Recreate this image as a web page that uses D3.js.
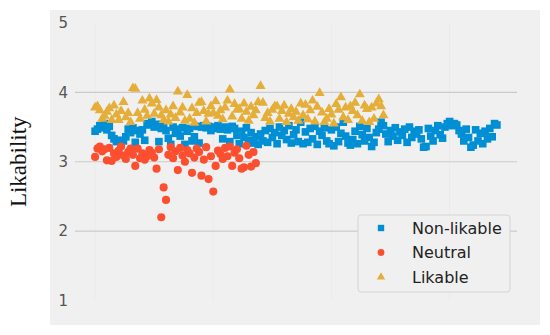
<!DOCTYPE html>
<html>
<head>
<meta charset="utf-8">
<script src="https://cdn.jsdelivr.net/npm/d3@7"></script>
<style>
  body { margin: 0; background: #fff; }
  svg { display: block; }
</style>
</head>
<body>
<script>
// data (x is just the sample index)
var nonLikable = [
  3.44, 3.47, 3.52, 3.49, 3.55, 3.46, 3.51, 3.38, 3.33, 3.29,
  3.31, 3.27, 3.30, 3.36, 3.47, 3.42, 3.49, 3.28, 3.45, 3.40,
  3.46, 3.31, 3.55, 3.53, 3.58, 3.50, 3.54, 3.29, 3.48, 3.52,
  3.45, 3.34, 3.25, 3.50, 3.41, 3.47, 3.37, 3.49, 3.25, 3.44,
  3.48, 3.30, 3.36, 3.51, 3.27, 3.50, 3.52, 3.49, 3.51, 3.45,
  3.48, 3.50, 3.52, 3.47, 3.33, 3.50, 3.46, 3.29, 3.51, 3.48,
  3.38, 3.26, 3.44, 3.35, 3.49, 3.31, 3.42, 3.27, 3.36, 3.25,
  3.40, 3.30, 3.45, 3.28, 3.48, 3.35, 3.42, 3.26, 3.50, 3.38,
  3.45, 3.32, 3.52, 3.27, 3.39, 3.46, 3.29, 3.57, 3.26, 3.43,
  3.28, 3.48, 3.33, 3.51, 3.25, 3.44, 3.38, 3.49, 3.30, 3.26,
  3.46, 3.23, 3.50, 3.29, 3.41, 3.57, 3.37, 3.27, 3.24, 3.32,
  3.44, 3.26, 3.51, 3.39, 3.30, 3.48, 3.35, 3.22, 3.28, 3.42,
  3.47, 3.57, 3.52, 3.40, 3.29, 3.45, 3.37, 3.49, 3.31, 3.43,
  3.38, 3.47, 3.28, 3.50, 3.35, 3.44, 3.40, 3.46, 3.33, 3.21,
  3.22, 3.48, 3.37, 3.30, 3.45, 3.52, 3.39, 3.34, 3.50, 3.55,
  3.58, 3.52, 3.55, 3.53, 3.45, 3.40, 3.30, 3.47, 3.35, 3.21,
  3.24, 3.46, 3.30, 3.41, 3.26, 3.44, 3.33, 3.48, 3.36, 3.55,
  3.53
];
var neutral = [
  3.07, 3.19, 3.22, 3.15, 3.18, 3.02, 3.20, 3.01, 3.12, 3.07,
  3.16, 3.22, 3.09, 3.04, 3.14, 3.19, 3.10, 2.94, 3.19, 3.05,
  3.12, 3.03, 3.08, 3.17, 3.13, 3.06, 2.90, 3.18, 2.20, 2.63,
  2.45, 3.10, 3.21, 3.05, 3.15, 2.88, 3.20, 3.09, 3.00, 3.17,
  3.12, 2.84, 3.06, 3.19, 3.14, 2.80, 3.03, 3.21, 2.75, 3.08,
  2.57, 2.94, 3.16, 3.11, 3.04, 3.20, 3.08, 3.22, 2.94, 3.13,
  3.18, 3.05, 2.90, 2.92, 3.23, 3.10, 2.93, 3.14, 2.98
];
var likable = [
  3.78, 3.80, 3.74, 3.62, 3.66, 3.72, 3.77, 3.60, 3.81, 3.68,
  3.60, 3.73, 3.86, 3.64, 3.70, 3.57, 4.06, 4.05, 3.70, 3.62,
  3.88, 3.75, 3.66, 3.91, 3.84, 3.69, 3.89, 3.78, 3.67, 3.60,
  3.74, 3.58, 3.68, 3.80, 3.63, 4.01, 3.71, 3.78, 3.59, 3.96,
  3.62, 3.77, 3.56, 3.70, 3.85, 3.86, 3.73, 3.58, 3.69, 3.80,
  3.70, 3.87, 3.66, 3.74, 3.61, 3.78, 3.88, 4.04, 3.65, 3.83,
  3.75, 3.76, 3.62, 3.84, 3.72, 3.59, 3.79, 3.67, 3.74, 3.86,
  4.09, 3.85, 3.63, 3.70, 3.58, 3.75, 3.80, 3.80, 3.62, 3.73,
  3.81, 3.57, 3.69, 3.76, 3.64, 3.72, 3.59, 3.84, 3.67, 3.82,
  3.61, 3.74, 3.88, 3.58, 3.79, 3.99, 3.71, 3.57, 3.62, 3.76,
  3.68, 3.55, 3.83, 3.75, 3.93, 3.64, 3.78, 3.60, 3.80, 3.73,
  3.85, 3.67, 3.97, 3.59, 3.81, 3.76, 3.57, 3.78, 3.62, 3.84,
  3.90, 3.80, 3.67
];

var seriesNames = ["Non-likable", "Neutral", "Likable"];
var yTicks = [1, 2, 3, 4, 5];
var xGridTicks = [0, 50, 100, 150];

var colours = ["#008fd5", "#fc4f30", "#e5ae38"];
var shapes = [d3.symbolSquare, d3.symbolCircle, d3.symbolTriangle];
var sizes = [58, 52, 44];

var W = 550, H = 335;

var svg = d3.select("body").append("svg")
	.attr("width", W)
	.attr("height", H);

// grey figure panel
svg.append("rect")
	.attr("x", 50).attr("y", 10)
	.attr("width", 490).attr("height", 315)
	.attr("fill", "#f0f0f0");

var nMax = nonLikable.length - 1,
	padX = nMax * 0.05;

var x = d3.scaleLinear().domain([-padX, nMax + padX]).range([75, 517]),
	y = d3.scaleLinear().domain([1, 5]).range([300.5, 23]);

// faint vertical grid
svg.append("g").selectAll("line").data(xGridTicks).enter().append("line")
	.attr("x1", function(d){ return x(d); })
	.attr("x2", function(d){ return x(d); })
	.attr("y1", y(5)).attr("y2", y(1))
	.attr("stroke", "#ebebeb")
	.attr("stroke-width", 1);

// horizontal grid (the ones at the edges don't show)
svg.append("g").selectAll("line").data(yTicks.slice(1, -1)).enter().append("line")
	.attr("x1", 75).attr("x2", 517)
	.attr("y1", function(d){ return y(d); })
	.attr("y2", function(d){ return y(d); })
	.attr("stroke", "#cbcbcb")
	.attr("stroke-width", 1.2);

var yAxis = d3.axisLeft(y).tickValues(yTicks).tickSize(0).tickPadding(0).tickFormat(d3.format("d"));

var ya = svg.append("g")
	.attr("transform", "translate(68,0)")
	.call(yAxis);
ya.select(".domain").remove();
ya.selectAll("text")
	.attr("font-family", "DejaVu Sans")
	.attr("font-size", 15)
	.attr("fill", "#555");

svg.append("text")
	.attr("transform", "translate(26," + y(3) + ") rotate(-90)")
	.attr("text-anchor", "middle")
	.attr("font-family", "Liberation Serif")
	.attr("font-size", 23)
	.attr("fill", "#111")
	.text("Likability");

var allSeries = [nonLikable, neutral, likable];

allSeries.forEach(function(vals, k){
	svg.append("g").selectAll("path").data(vals).enter().append("path")
		.attr("d", d3.symbol().type(shapes[k]).size(sizes[k]))
		.attr("transform", function(d, i){ return "translate(" + x(i) + "," + y(d) + ")"; })
		.attr("fill", colours[k]);
});

// legend
var lg = svg.append("g").attr("transform", "translate(358,215)");
lg.append("rect")
	.attr("width", 152).attr("height", 77)
	.attr("rx", 3)
	.attr("fill", "#f0f0f0")
	.attr("stroke", "#d4d4d4")
	.attr("stroke-width", 1);

var rows = lg.selectAll("g.row").data(seriesNames).enter().append("g")
	.attr("class", "row")
	.attr("transform", function(d, i){ return "translate(0," + (13 + i * 24.5) + ")"; });

rows.append("path")
	.attr("d", function(d, i){ return d3.symbol().type(shapes[i]).size(sizes[i] * 0.7)(); })
	.attr("transform", "translate(23,0)")
	.attr("fill", function(d, i){ return colours[i]; });

rows.append("text")
	.attr("x", 54)
	.attr("dy", "0.35em")
	.attr("font-family", "DejaVu Sans")
	.attr("font-size", 16)
	.attr("fill", "#222")
	.text(function(d){ return d; });
</script>
</body>
</html>
